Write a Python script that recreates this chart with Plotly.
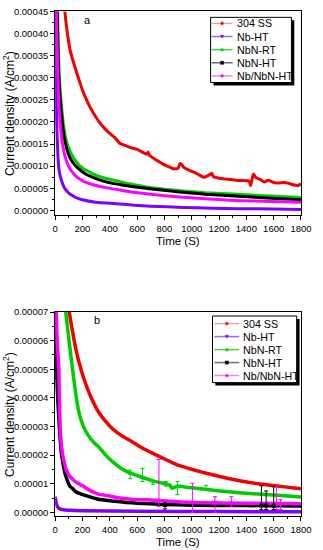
import plotly.graph_objects as go

W, H = 323, 550
FONT = "Arial, Liberation Sans, sans-serif"

names = ["304 SS", "Nb-HT", "NbN-RT", "NbN-HT", "Nb/NbN-HT"]
colors = ["#F00000", "#7F00FF", "#00CC00", "#000000", "#FF00FF"]
legend_line_colors = ["#E0A8A8", "#9A6AE8", "#40D840", "#6A6A90", "#E88AE8"]
symbols = ["circle", "triangle-down", "triangle-up", "square", "star"]

# ---------------- Panel a ----------------
a_ss_t = [30, 50, 71, 90, 110, 134, 170, 200, 230, 258, 290, 322, 360, 400, 435, 473, 520, 552, 600, 650, 672,
          680, 690, 700, 740, 786, 830, 865, 900, 914, 926, 940, 980, 1019, 1050, 1089, 1140, 1147, 1160, 1229,
          1290, 1346, 1420, 1431, 1440, 1451, 1470, 1500, 1532, 1560, 1600, 1626, 1680, 1719, 1777, 1800]
a_ss_v = [0.00070, 0.00055, 0.00045, 0.00040, 0.000362, 0.000335, 0.00030, 0.000272, 0.00025, 0.000232,
          0.000215, 0.00020, 0.000186, 0.000174, 0.000165, 0.000152, 0.000146, 0.000142, 0.000138, 0.000130,
          0.000127, 0.000132, 0.000125, 0.000122, 0.000114, 0.000105, 0.000099, 0.000094, 0.000095, 0.000106,
          0.000104, 0.000098, 0.000091, 0.000086, 0.000081, 0.000075, 0.000082, 0.000084, 0.000076, 0.0000714,
          0.000070, 0.0000676, 0.000066, 0.000056, 0.000068, 0.000082, 0.000074, 0.000070, 0.000064, 0.000068,
          0.000063, 0.000062, 0.000063, 0.000060, 0.000056, 0.000060]

a_nbht_t = [2, 5, 8, 12, 17, 22, 29, 37, 45, 54, 64, 80, 100, 120, 146, 200, 286, 380, 473, 580, 700, 935, 1150,
            1346, 1600, 1800]
a_nbht_v = [0.00045, 0.00033, 0.00025, 0.00019, 0.00015, 0.000115, 0.00009, 0.000078, 0.000069, 0.000061,
            0.0000535, 0.000046, 0.000039, 0.0000345, 0.0000300, 0.000024, 0.0000190, 0.0000165, 0.0000145,
            0.0000118, 0.0000095, 0.0000067, 0.000005, 0.0000038, 0.000003, 0.0000022]

a_nbnrt_t = [10, 18, 26, 34, 40, 46, 56, 66, 76, 90, 105, 122, 145, 170, 200, 239, 280, 330, 390, 449, 540, 669,
             800, 935, 1100, 1346, 1580, 1800]
a_nbnrt_v = [0.00060, 0.00045, 0.00034, 0.000285, 0.00026, 0.000237, 0.000207, 0.000183, 0.000165, 0.000149,
             0.000137, 0.000126, 0.000114, 0.000104, 0.000096, 0.000089, 0.000082, 0.000076, 0.000071, 0.000067,
             0.000060, 0.0000530, 0.0000480, 0.0000440, 0.000040, 0.0000362, 0.0000325, 0.000029]

a_nbnht_t = [8, 15, 22, 30, 36, 42, 52, 64, 80, 99, 118, 140, 165, 192, 230, 280, 353, 420, 500, 600, 739, 850,
             935, 1100, 1346, 1580, 1800]
a_nbnht_v = [0.00060, 0.00045, 0.00034, 0.00028, 0.000255, 0.000232, 0.000200, 0.000170, 0.000145, 0.000126,
             0.000114, 0.000104, 0.000096, 0.000089, 0.000081, 0.000074, 0.000066, 0.000061, 0.000057, 0.000052,
             0.0000470, 0.0000435, 0.000041, 0.0000365, 0.000032, 0.0000275, 0.000024]

a_nbnbn_t = [5, 10, 14, 18, 25, 30, 35, 41, 48, 58, 71, 90, 105, 122, 150, 180, 220, 286, 360, 473, 560, 669,
             800, 935, 1100, 1346, 1580, 1800]
a_nbnbn_v = [0.00060, 0.00045, 0.00038, 0.00033, 0.00026, 0.000228, 0.000204, 0.000183, 0.000164, 0.000143,
             0.000124, 0.000106, 0.000096, 0.000088, 0.000078, 0.000071, 0.000064, 0.0000575, 0.0000520,
             0.0000460, 0.0000415, 0.0000375, 0.000033, 0.0000295, 0.000026, 0.0000220, 0.0000200, 0.0000186]

# ---------------- Panel b ----------------
b_ss_t = [50, 75, 90, 104, 130, 150, 172, 210, 260, 319, 370, 420, 480, 552, 610, 669, 730, 786, 840, 900, 1019,
          1130, 1252, 1370, 1486, 1650, 1800]
b_ss_v = [0.00012, 0.00009, 0.000079, 0.00007, 0.0000625, 0.0000575, 0.0000530, 0.0000468, 0.0000405,
          0.0000350, 0.0000318, 0.0000292, 0.0000270, 0.0000250, 0.0000233, 0.0000217, 0.0000203, 0.0000190,
          0.0000178, 0.0000165, 0.0000148, 0.0000134, 0.0000120, 0.0000109, 0.0000100, 0.0000091, 0.0000083]

b_nbht_t = [0, 5, 10, 25, 60, 200, 600, 1200, 1800]
b_nbht_v = [0.0000055, 0.000004, 0.0000028, 0.0000015, 0.0000009, 0.0000006, 0.0000004, 0.0000003, 0.0000002]

b_nbnrt_t = [40, 60, 78, 90, 102, 116, 130, 148, 167, 185, 210, 240, 280, 319, 370, 435, 490, 552, 640, 716, 786,
             840, 856, 880, 902, 960, 1019, 1130, 1250, 1370, 1486, 1650, 1800]
b_nbnrt_v = [0.000105, 0.000085, 0.00007, 0.000065, 0.00006, 0.0000545, 0.000049, 0.0000425, 0.0000367,
             0.0000330, 0.0000298, 0.0000271, 0.0000246, 0.0000229, 0.0000200, 0.0000171, 0.0000152, 0.0000137,
             0.0000122, 0.0000110, 0.0000102, 0.0000095, 0.0000084, 0.0000089, 0.0000092, 0.0000088, 0.0000085,
             0.0000079, 0.0000073, 0.0000068, 0.0000064, 0.0000059, 0.0000054]

b_nbnht_t = [2, 6, 10, 15, 20, 27, 34, 45, 62, 75, 90, 109, 125, 135, 150, 175, 202, 250, 300, 360, 435, 520, 600,
             786, 1000, 1400, 1800]
b_nbnht_v = [0.00009, 0.00007, 0.00005, 0.000044, 0.000039, 0.000033, 0.0000275, 0.000021, 0.000016, 0.0000132,
             0.000011, 0.0000091, 0.0000085, 0.000008, 0.0000072, 0.0000067, 0.0000062, 0.0000055, 0.0000048,
             0.0000043, 0.0000039, 0.0000035, 0.0000032, 0.0000028, 0.0000025, 0.0000024, 0.0000022]

b_nbnbn_t = [3, 8, 15, 21, 27, 33, 39, 48, 60, 72, 85, 109, 130, 155, 202, 250, 319, 389, 460, 552, 669, 786,
             1000, 1400, 1800]
b_nbnbn_v = [0.00009, 0.00007, 0.00006, 0.000055, 0.00005, 0.000036, 0.0000275, 0.0000225, 0.000019,
             0.0000165, 0.0000145, 0.0000125, 0.0000115, 0.0000105, 0.0000093, 0.0000078, 0.0000064, 0.0000058,
             0.0000051, 0.0000046, 0.0000044, 0.0000041, 0.0000035, 0.0000032, 0.000003]

# spikes (t, base, low, high) per series in panel b
b_spk_nbnrt_t = [550, 640, 716, 810, 895, 1105]
b_spk_nbnrt_lo = [0.0000118, 0.0000108, 0.0000098, 0.0000092, 0.0000062, 0.0000078]
b_spk_nbnrt_hi = [0.0000148, 0.0000154, 0.0000112, 0.0000108, 0.0000108, 0.0000095]
b_spk_nbnrt_base = [0.0000135, 0.0000125, 0.0000108, 0.0000101, 0.0000090, 0.0000080]

b_spk_nbnbn_t = [760, 1005, 1170, 1290, 1620, 1650]
b_spk_nbnbn_lo = [0.000002, 0.0000000, 0.0000000, 0.000002, 0.000001, 0.000001]
b_spk_nbnbn_hi = [0.0000185, 0.0000102, 0.0000055, 0.0000055, 0.0000092, 0.0000045]
b_spk_nbnbn_base = [0.0000042, 0.0000036, 0.0000035, 0.0000034, 0.0000031, 0.000003]

b_spk_nbnht_t = [805, 1510, 1545, 1600]
b_spk_nbnht_lo = [0.0000012, 0.000001, 0.000001, 0.000001]
b_spk_nbnht_hi = [0.0000035, 0.0000093, 0.0000075, 0.000009]
b_spk_nbnht_base = [0.0000026, 0.0000024, 0.0000024, 0.0000023]

x_ticks = [0, 200, 400, 600, 800, 1000, 1200, 1400, 1600, 1800]

panel_a = [(a_ss_t, a_ss_v), (a_nbht_t, a_nbht_v), (a_nbnrt_t, a_nbnrt_v), (a_nbnht_t, a_nbnht_v),
           (a_nbnbn_t, a_nbnbn_v)]
panel_b = [(b_ss_t, b_ss_v), (b_nbht_t, b_nbht_v), (b_nbnrt_t, b_nbnrt_v), (b_nbnht_t, b_nbnht_v),
           (b_nbnbn_t, b_nbnbn_v)]
spikes_b = [(2, b_spk_nbnrt_t, b_spk_nbnrt_base, b_spk_nbnrt_lo, b_spk_nbnrt_hi),
            (4, b_spk_nbnbn_t, b_spk_nbnbn_base, b_spk_nbnbn_lo, b_spk_nbnbn_hi),
            (3, b_spk_nbnht_t, b_spk_nbnht_base, b_spk_nbnht_lo, b_spk_nbnht_hi)]

fig = go.Figure()
for i, (t, v) in enumerate(panel_a):
    fig.add_trace(go.Scatter(x=t, y=v, mode="lines", name=names[i], showlegend=False,
                             line=dict(color=colors[i], width=3, shape="spline", smoothing=0.5),
                             xaxis="x", yaxis="y"))
for i, (t, v) in enumerate(panel_b):
    fig.add_trace(go.Scatter(x=t, y=v, mode="lines", name=names[i], showlegend=False,
                             line=dict(color=colors[i], width=3.5, shape="spline", smoothing=0.5),
                             xaxis="x2", yaxis="y2"))
for (i, t, base, lo, hi) in spikes_b:
    fig.add_trace(go.Scatter(
        x=t, y=base, mode="markers", showlegend=False,
        marker=dict(color=colors[i], size=4, symbol=symbols[i]),
        error_y=dict(type="data", symmetric=False,
                     array=[h - b for h, b in zip(hi, base)],
                     arrayminus=[b - l for b, l in zip(base, lo)],
                     color=colors[i], thickness=1, width=2),
        xaxis="x2", yaxis="y2"))

def px2x(px):
    return px / W

def py2y(py):
    return 1 - py / H

axis_common = dict(showline=True, linecolor="black", linewidth=1, mirror=True, ticks="outside",
                   ticklen=4, tickwidth=1, tickcolor="black", showgrid=False, zeroline=False,
                   tickfont=dict(family=FONT, size=9.5, color="black"))
xdom = [px2x(54.5), px2x(311.5)]
fig.update_layout(
    width=W, height=H, margin=dict(l=0, r=0, t=0, b=0),
    paper_bgcolor="white", plot_bgcolor="white", showlegend=False,
    font=dict(family=FONT, color="black"),
    xaxis=dict(domain=xdom, range=[0, 1800], tickvals=x_ticks, anchor="y",
               minor=dict(dtick=100, ticklen=2, ticks="outside", tickcolor="black"), **axis_common),
    yaxis=dict(domain=[py2y(212), py2y(5.5)], range=[-0.0000112, 0.00045], dtick=0.00005, tick0=0,
               tickformat=".5f", anchor="x",
               minor=dict(dtick=0.000025, ticklen=2, ticks="outside", tickcolor="black"), **axis_common),
    xaxis2=dict(domain=xdom, range=[0, 1800], tickvals=x_ticks, anchor="y2",
                minor=dict(dtick=100, ticklen=2, ticks="outside", tickcolor="black"), **axis_common),
    yaxis2=dict(domain=[py2y(517), py2y(310)], range=[-0.0000014, 0.00007], dtick=0.00001, tick0=0,
                tickformat=".5f", anchor="x2",
                minor=dict(dtick=0.000005, ticklen=2, ticks="outside", tickcolor="black"), **axis_common),
)

ann = []
shapes = []
for (cy, ty, lab, ly, lx) in [((5.5 + 212) / 2, 238, "a", 14, 88), ((310 + 517) / 2, 543, "b", 318, 98)]:
    ann.append(dict(x=px2x(7), y=py2y(cy), xref="paper", yref="paper", text="Current density (A/cm<sup>2</sup>)",
                    textangle=-90, showarrow=False, font=dict(size=12, family=FONT), xanchor="center",
                    yanchor="middle"))
    ann.append(dict(x=px2x(183), y=py2y(ty), xref="paper", yref="paper", text="Time (S)", showarrow=False,
                    font=dict(size=11.5, family=FONT), xanchor="center", yanchor="middle"))
    ann.append(dict(x=px2x(lx), y=py2y(ly), xref="paper", yref="paper", text=lab, showarrow=False,
                    font=dict(size=11, family=FONT), xanchor="center", yanchor="middle"))


def marker_path(kind, cx, cy, r):
    # returns an SVG path in paper coordinates for a tiny legend marker
    def P(x, y):
        return "%.5f,%.5f" % (px2x(x), py2y(y))
    if kind == "triangle-down":
        return "M%s L%s L%s Z" % (P(cx - r, cy - r * 0.8), P(cx + r, cy - r * 0.8), P(cx, cy + r))
    if kind == "triangle-up":
        return "M%s L%s L%s Z" % (P(cx - r, cy + r * 0.8), P(cx + r, cy + r * 0.8), P(cx, cy - r))
    if kind == "square":
        return "M%s L%s L%s L%s Z" % (P(cx - r, cy - r), P(cx + r, cy - r), P(cx + r, cy + r), P(cx - r, cy + r))
    return None


legends = [dict(box=(217, 11.5, 301.5, 77.5), y0=17.6, dy=13.3, lx0=218, lx1=240, tx=242.5),
           dict(box=(219, 314, 307, 381.5), y0=321.7, dy=13.15, lx0=221, lx1=247, tx=249)]
for lg in legends:
    x0, y0, x1, y1 = lg["box"]
    shapes.append(dict(type="rect", xref="paper", yref="paper", x0=px2x(x0 + 3), x1=px2x(x1 + 3),
                       y0=py2y(y1 + 3), y1=py2y(y0 + 3), fillcolor="black", line=dict(width=0)))
    shapes.append(dict(type="rect", xref="paper", yref="paper", x0=px2x(x0), x1=px2x(x1),
                       y0=py2y(y1), y1=py2y(y0), fillcolor="white", line=dict(color="black", width=1)))
    for i, nm in enumerate(names):
        yy = lg["y0"] + i * lg["dy"]
        shapes.append(dict(type="line", xref="paper", yref="paper", x0=px2x(lg["lx0"]), x1=px2x(lg["lx1"]),
                           y0=py2y(yy), y1=py2y(yy), line=dict(color=legend_line_colors[i], width=1.5)))
        mx = (lg["lx0"] + lg["lx1"]) / 2
        path = marker_path(symbols[i], mx, yy, 1.6)
        if path is None:
            shapes.append(dict(type="circle", xref="paper", yref="paper", x0=px2x(mx - 1.4), x1=px2x(mx + 1.4),
                               y0=py2y(yy + 1.4), y1=py2y(yy - 1.4), fillcolor=colors[i],
                               line=dict(color=colors[i], width=0.5)))
        else:
            shapes.append(dict(type="path", xref="paper", yref="paper", path=path, fillcolor=colors[i],
                               line=dict(color=colors[i], width=0.5)))
        ann.append(dict(x=px2x(lg["tx"]), y=py2y(yy), xref="paper", yref="paper", text=nm, showarrow=False,
                        font=dict(size=10.7, family=FONT), xanchor="left", yanchor="middle"))

fig.update_layout(annotations=ann, shapes=shapes)
fig.write_html("out.html", config={"displayModeBar": False},
               post_script="document.body.style.margin='0';document.body.style.overflow='hidden';")
